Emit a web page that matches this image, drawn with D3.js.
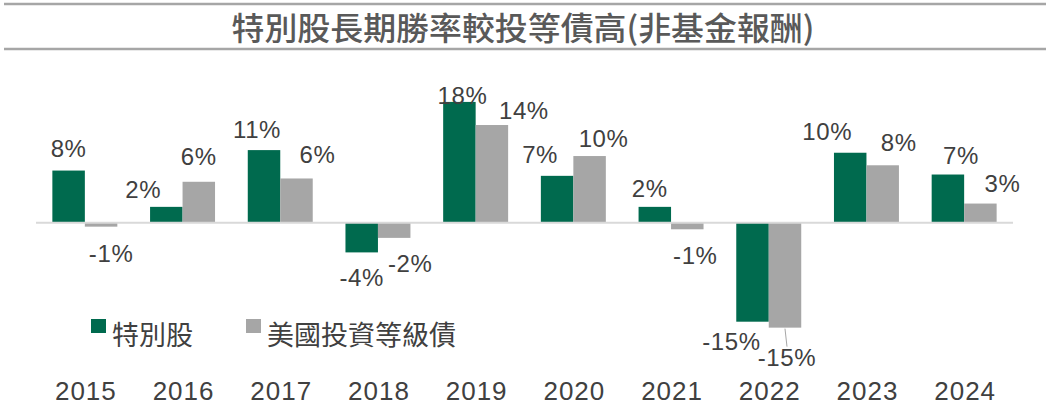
<!DOCTYPE html>
<meta charset="utf-8">
<script src="https://d3js.org/d3.v7.min.js"></script>
<style>
  body { margin: 0; background: #fff; }
</style>
<svg id="chart" width="1051" height="414"></svg>
<script>
  // data
  var years = ["2015", "2016", "2017", "2018", "2019", "2020", "2021", "2022", "2023", "2024"];
  var prefValues = [7.9, 2.4, 11.0, -4.5, 18.3, 7.1, 2.4, -15.0, 10.6, 7.3];
  var bondValues = [-0.6, 6.2, 6.7, -2.3, 14.8, 10.1, -1.0, -15.9, 8.7, 2.9];
  var prefLabels = ["8%", "2%", "11%", "-4%", "18%", "7%", "2%", "-15%", "10%", "7%"];
  var bondLabels = ["-1%", "6%", "6%", "-2%", "14%", "10%", "-1%", "-15%", "8%", "3%"];
  var seriesNames = ["特別股", "美國投資等級債"];

  // hand nudges for the value labels (like the moved labels in the original)
  var prefNudge = [[0, 0], [-23, 5], [-7, 2], [0, 0], [3, 16], [-17, 1], [-5, 4], [-21, -6], [-23, 1], [13, 3]];
  var bondNudge = [[10, 1], [0, -3], [21, -1], [16, 0], [32, 8], [14, 5], [8, 1], [2, 4], [16, 0], [22, 2]];

  var green = "#006a4e", grey = "#a6a6a6", textCol = "#404040";
  var svg = d3.select("#chart");

  // title with rules above and below
  svg.append("line").attr("x1", 4).attr("x2", 1046).attr("y1", 4).attr("y2", 4)
    .attr("stroke", grey).attr("stroke-width", 2.5);
  svg.append("line").attr("x1", 4).attr("x2", 1046).attr("y1", 49).attr("y2", 49)
    .attr("stroke", grey).attr("stroke-width", 2.5);
  svg.append("text")
    .attr("x", 523).attr("y", 40)
    .attr("text-anchor", "middle")
    .attr("textLength", 583).attr("lengthAdjust", "spacingAndGlyphs")
    .style("font-family", "'Noto Sans CJK TC', sans-serif")
    .style("font-size", "32px").style("font-weight", 500)
    .style("fill", "#595959")
    .text("特別股長期勝率較投等債高(非基金報酬)");

  var x = d3.scaleBand().domain(years).range([36, 1013])
    .paddingInner(0.335).paddingOuter(0.1675);
  var xSub = d3.scaleBand().domain(["pref", "bond"]).range([0, x.bandwidth()]);
  var y = d3.scaleLinear().domain([-20, 20]).range([354.7, 90.7]);

  var rows = years.map(function (yr, i) {
    return [
      { year: yr, key: "pref", v: prefValues[i], label: prefLabels[i], nudge: prefNudge[i] },
      { year: yr, key: "bond", v: bondValues[i], label: bondLabels[i], nudge: bondNudge[i] }
    ];
  });
  var flat = [].concat.apply([], rows);

  // bars
  svg.append("g").selectAll("rect")
    .data(flat).enter().append("rect")
      .attr("x", function (d) { return x(d.year) + xSub(d.key); })
      .attr("y", function (d) { return y(Math.max(0, d.v)); })
      .attr("width", xSub.bandwidth())
      .attr("height", function (d) { return Math.abs(y(d.v) - y(0)); })
      .attr("fill", function (d) { return d.key == "pref" ? green : grey; });

  // zero line
  svg.append("line")
    .attr("x1", 36).attr("x2", 1013)
    .attr("y1", y(0)).attr("y2", y(0))
    .attr("stroke", "#d9d9d9").attr("stroke-width", 2);

  // value labels
  svg.append("g").selectAll("text")
    .data(flat).enter().append("text")
      .attr("x", function (d) { return x(d.year) + xSub(d.key) + xSub.bandwidth() / 2 + d.nudge[0]; })
      .attr("y", function (d) {
        return (d.v >= 0 ? y(d.v) - 14 : y(d.v) + 34) + d.nudge[1];
      })
      .attr("text-anchor", "middle")
      .style("font-family", "'Liberation Sans', Arial, sans-serif")
      .style("font-size", "24px")
      .style("letter-spacing", "0.6px")
      .style("fill", textCol)
      .text(function (d) { return d.label; });

  // leader line for the 2022 bond label
  var b22 = x("2022") + xSub("bond") + xSub.bandwidth() / 2;
  svg.append("line")
    .attr("x1", b22).attr("y1", y(bondValues[7]) + 1)
    .attr("x2", b22 + 2).attr("y2", y(bondValues[7]) + 19)
    .attr("stroke", grey).attr("stroke-width", 1);

  // year axis (no line, no ticks)
  var axis = svg.append("g")
    .attr("transform", "translate(0,400)")
    .call(d3.axisBottom(x).tickSize(0).tickPadding(0));
  axis.select(".domain").remove();
  axis.selectAll("text")
    .attr("dy", 0)
    .attr("dx", 1)
    .style("font-family", "'Liberation Sans', Arial, sans-serif")
    .style("font-size", "26px")
    .style("letter-spacing", "1px")
    .style("fill", textCol);

  // legend
  var legend = svg.append("g");
  var legX = [91, 246];
  seriesNames.forEach(function (name, i) {
    legend.append("rect")
      .attr("x", legX[i]).attr("y", 319)
      .attr("width", 15).attr("height", 14)
      .attr("fill", i == 0 ? green : grey);
    legend.append("text")
      .attr("x", legX[i] + 21).attr("y", 345)
      .style("font-family", "'Noto Sans CJK TC', sans-serif")
      .style("font-size", "27px")
      .style("fill", textCol)
      .text(name);
  });
</script>
